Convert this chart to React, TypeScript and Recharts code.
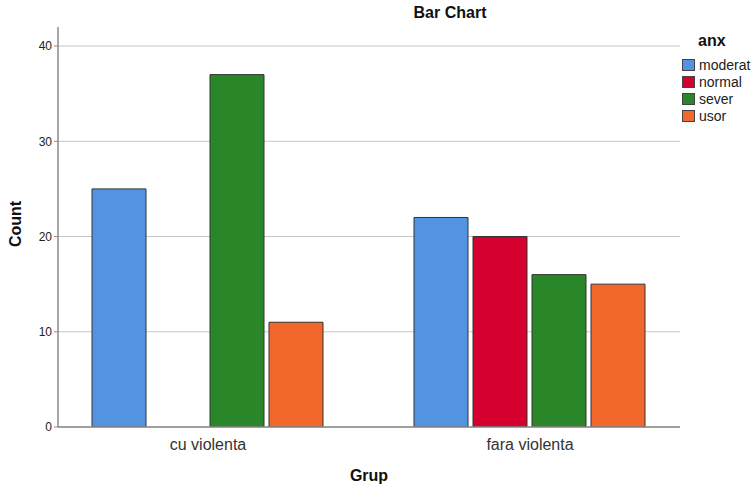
import React from 'react'
import { BarChart, Bar, XAxis, YAxis, CartesianGrid } from 'recharts'

document.body.style.margin = '0'

const groups = ['cu violenta', 'fara violenta']
const moderat = [25, 22]
const normal = [null, 20]
const sever = [37, 16]
const usor = [11, 15]

const seriesNames = ['moderat', 'normal', 'sever', 'usor']
const seriesColors = ['#5294E2', '#D6002F', '#2A8729', '#F2672C']
const yTicks = [0, 10, 20, 30, 40]

const data = groups.map((g, i) => ({
  grup: g,
  moderat: moderat[i],
  normal: normal[i],
  sever: sever[i],
  usor: usor[i],
}))

const font = '"Liberation Sans", Arial, sans-serif'

export default function App() {
  return (
    <div style={{ position: 'relative', width: 752, height: 488, fontFamily: font, background: '#fff' }}>
      <BarChart
        width={752}
        height={488}
        data={data}
        margin={{ top: 27, right: 72, bottom: 21, left: 0 }}
        barCategoryGap={45}
        barGap={5}
      >
        <CartesianGrid vertical={false} stroke="#c8c8c8" strokeWidth={1} syncWithTicks />
        <XAxis
          dataKey="grup"
          height={40}
          padding={{ left: -11, right: -11 }}
          tickLine={false}
          axisLine={{ stroke: '#8a8a8a', strokeWidth: 1.5 }}
          tick={{ fill: '#333', fontSize: 16, fontFamily: font }}
          tickMargin={6}
          label={{
            content: () => (
              <text x={369} y={481} textAnchor="middle" fontSize={16} fontWeight="bold" fill="#111" fontFamily={font}>
                Grup
              </text>
            ),
          }}
        />
        <YAxis
          width={58}
          domain={[0, 42]}
          ticks={yTicks}
          allowDataOverflow
          tickSize={4}
          tickLine={{ stroke: '#8a8a8a' }}
          axisLine={{ stroke: '#8a8a8a', strokeWidth: 1.5 }}
          tick={{ fill: '#222', fontSize: 12, fontFamily: font }}
          label={{
            content: () => (
              <text x={21} y={224} transform="rotate(-90 21 224)" textAnchor="middle" fontSize={16} fontWeight="bold" fill="#111" fontFamily={font}>
                Count
              </text>
            ),
          }}
        />
        {seriesNames.map((name, i) => (
          <Bar
            key={name}
            dataKey={name}
            fill={seriesColors[i]}
            stroke="#333"
            strokeWidth={1}
            isAnimationActive={false}
          />
        ))}
      </BarChart>
      <div style={{ position: 'absolute', left: 0, top: 4, width: 900, textAlign: 'center', fontSize: 16, fontWeight: 'bold', color: '#111' }}>
        Bar Chart
      </div>
      <div style={{ position: 'absolute', left: 682, top: 32, fontSize: 14, color: '#222', whiteSpace: 'nowrap' }}>
        <div style={{ fontWeight: 'bold', fontSize: 16, marginLeft: 16, marginBottom: 6, color: '#111' }}>anx</div>
        {seriesNames.map((name, i) => (
          <div key={name} style={{ display: 'flex', alignItems: 'center', height: 17 }}>
            <span style={{ display: 'inline-block', width: 13, height: 12, background: seriesColors[i], border: '1px solid #444', boxSizing: 'border-box', marginRight: 4 }} />
            <span>{name}</span>
          </div>
        ))}
      </div>
    </div>
  )
}
